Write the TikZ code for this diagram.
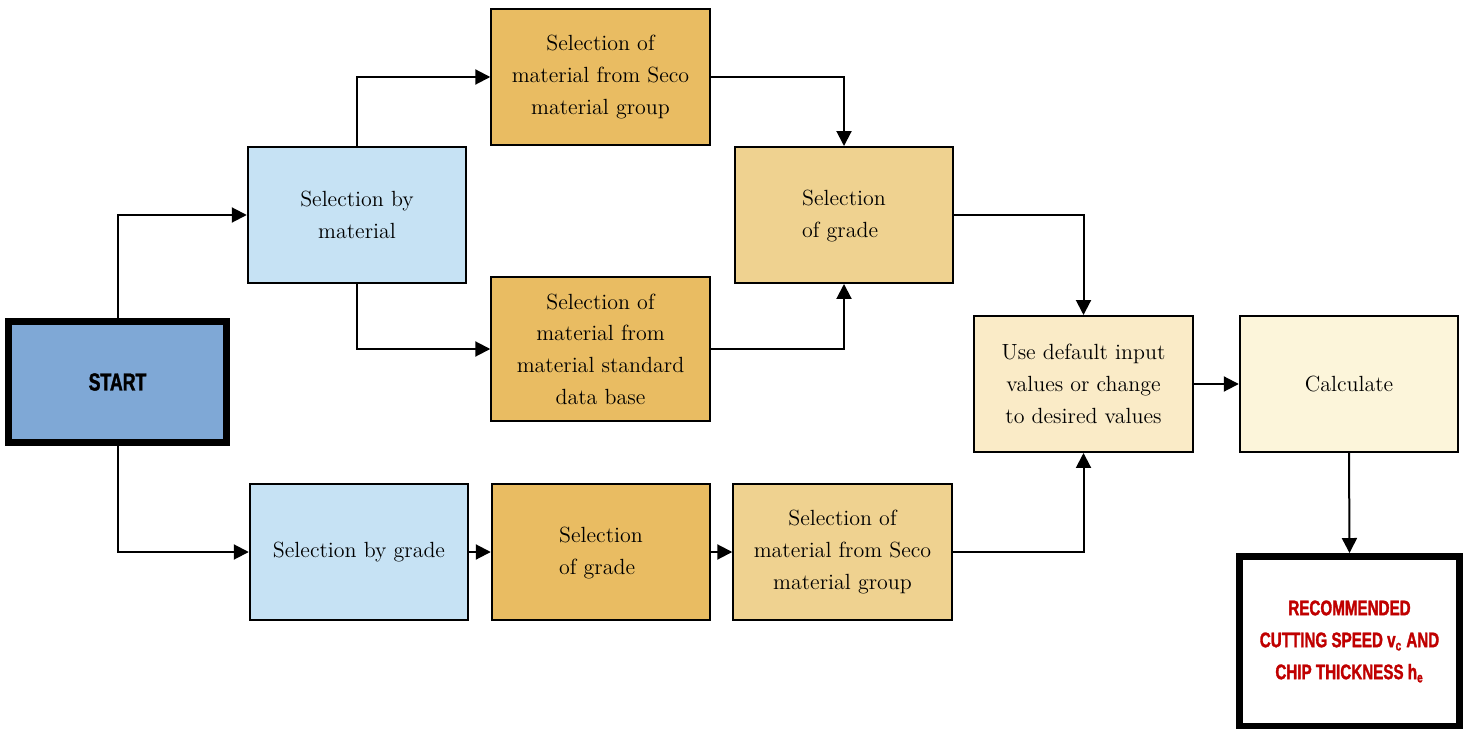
\documentclass[tikz,border=0pt]{standalone}
\usepackage{fontspec}
\usepackage{tikz}
\usepgflibrary{arrows.meta}
\usetikzlibrary{calc}
\newfontfamily\bannerfont[FakeStretch=0.72,FakeBold=1.5]{Liberation Sans}
\definecolor{startblue}{HTML}{7FA8D6}
\definecolor{paleblue}{HTML}{C6E2F4}
\definecolor{gold}{HTML}{E9BC62}
\definecolor{lightgold}{HTML}{EFD290}
\definecolor{cream}{HTML}{FAEBC7}
\definecolor{palecream}{HTML}{FCF5DA}
\definecolor{recred}{HTML}{C00000}

\begin{document}
\begin{tikzpicture}[
  x=0.02cm, y=-0.02cm,
  flow arrow/.style={
  arrows = {-Triangle[length=0.3cm,width=0.3cm]},
  line width=0.04cm
  },
  box/.style={
      draw=black,
      line width=0.04cm,
      minimum width=4.37cm,
      minimum height=2.72cm,
      inner sep=0pt,
      align=center,
      font=\fontsize{12.5}{18}\selectfont
    },
  heavy box/.style={
      box,
      line width=0.14cm,
      font=\bannerfont\bfseries
    }]

  \useasboundingbox (0,0) rectangle (1466,729);

  \node [heavy box, fill=startblue, minimum height=2.42cm, font=\bannerfont\bfseries\fontsize{14}{18}\selectfont] (start) at (117.5,382) {START};

  \node [box, fill=paleblue] (sel_mat) at (357,215) {Selection by\\material};
  \node [box, fill=gold] (seco_a) at (600.5,77) {Selection of\\material from Seco\\material group};
  \node [box, fill=gold, minimum height=2.88cm] (std_db) at (600.5,349) {Selection of\\material from\\material standard\\data base};
  \node [box, fill=lightgold] (grade_a) at (844,215) {\begin{tabular}{@{}l@{}}Selection\\of grade\end{tabular}};

  \node [box, fill=paleblue] (sel_grade) at (359,552) {Selection by grade};
  \node [box, fill=gold] (grade_b) at (601,552) {\begin{tabular}{@{}l@{}}Selection\\of grade\end{tabular}};
  \node [box, fill=lightgold] (seco_b) at (842.5,552) {Selection of\\material from Seco\\material group};

  \node [box, fill=cream] (defaults) at (1083.5,384) {Use default input\\values or change\\to desired values};
  \node [box, fill=palecream] (calculate) at (1349,384) {Calculate};
  \node [heavy box, fill=white, minimum width=4.4cm, minimum height=3.4cm, text=recred, font=\bannerfont\bfseries\fontsize{12}{18.2}\selectfont] (result) at (1349.5,641.5)
    {RECOMMENDED\\CUTTING SPEED v\textsubscript{c} AND\\CHIP THICKNESS h\textsubscript{e}};

  % material branch
  \draw [flow arrow] (start.north) |- (sel_mat.west);
  \draw [flow arrow] (sel_mat.north) |- (seco_a.west);
  \draw [flow arrow] (sel_mat.south) |- (std_db.west);
  \draw [flow arrow] (seco_a.east) -| (grade_a.north);
  \draw [flow arrow] (std_db.east) -| (grade_a.south);
  \draw [flow arrow] (grade_a.east) -| (defaults.north);

  % grade branch
  \draw [flow arrow] (start.south) |- (sel_grade.west);
  \draw [flow arrow] (sel_grade.east) -- (grade_b.west);
  \draw [flow arrow] (grade_b.east) -- (seco_b.west);
  \draw [flow arrow] (seco_b.east) -| (defaults.south);

  \draw [flow arrow] (defaults.east) -- (calculate.west);
  \draw [flow arrow] (calculate.south) -- (result.north);
\end{tikzpicture}
\end{document}
